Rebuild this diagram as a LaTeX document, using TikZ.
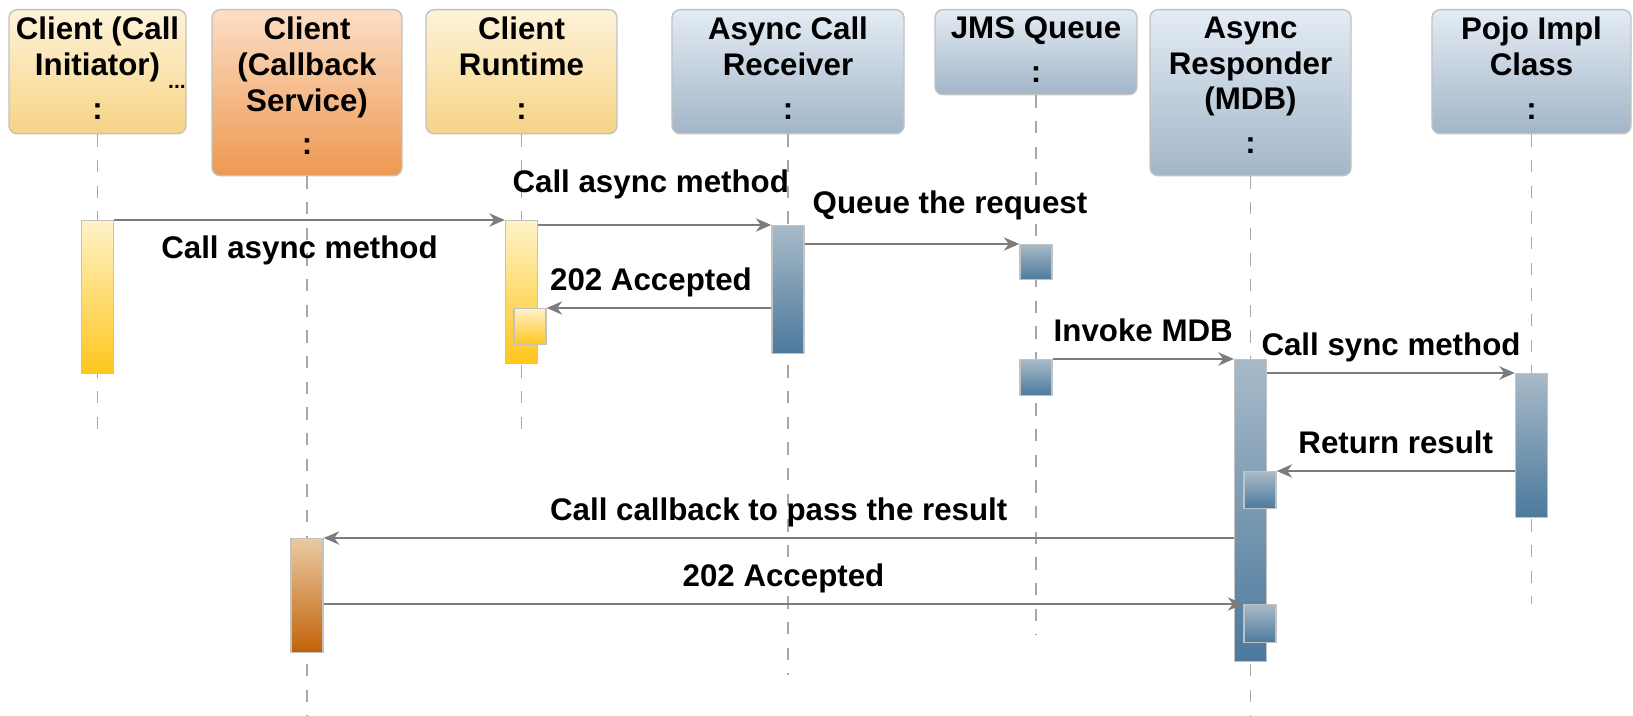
\documentclass[tikz,border=0pt]{standalone}
\usepackage{fontspec}
\setmainfont{Liberation Sans}
\usetikzlibrary{arrows.meta,positioning}
\definecolor{headyellowtop}{HTML}{FEF3D8}
\definecolor{headyellowbot}{HTML}{F6D486}
\definecolor{headorangetop}{HTML}{FCDEC6}
\definecolor{headorangebot}{HTML}{EE9850}
\definecolor{headbluetop}{HTML}{E4ECF4}
\definecolor{headbluebot}{HTML}{A2B5C8}
\definecolor{actyellowtop}{HTML}{FFF2C8}
\definecolor{actyellowbot}{HTML}{FFC61C}
\definecolor{actorangetop}{HTML}{EACAA2}
\definecolor{actorangebot}{HTML}{C26208}
\definecolor{actbluetop}{HTML}{A8BAC8}
\definecolor{actbluebot}{HTML}{4B799D}
\definecolor{msggray}{HTML}{7C7C7C}
\definecolor{linegray}{HTML}{A8A8A8}
\definecolor{edgegray}{HTML}{C2C2C2}
\newcommand{\seqfont}{\bfseries\fontsize{8.9}{10.2}\selectfont}

\begin{document}
\begin{tikzpicture}[
        head/.style={rectangle,draw=edgegray,line width=0.4pt,rounded corners=2.3pt,
                     anchor=north,inner sep=0pt},
        headyellow/.style={head,top color=headyellowtop,bottom color=headyellowbot},
        headorange/.style={head,top color=headorangetop,bottom color=headorangebot},
        headblue/.style={head,top color=headbluetop,bottom color=headbluebot},
        headtext/.style={align=center,font=\seqfont,inner sep=0pt},
        lifeline/.style={draw=linegray,line width=0.42pt,dash pattern=on 3.5pt off 3.8pt},
        act/.style={rectangle,draw=edgegray,line width=0.4pt,anchor=north,
                    minimum width=0.32cm,inner sep=0pt},
        actyellow/.style={act,top color=actyellowtop,bottom color=actyellowbot},
        actorange/.style={act,top color=actorangetop,bottom color=actorangebot},
        actblue/.style={act,top color=actbluetop,bottom color=actbluebot},
        msg/.style={draw=msggray,line width=0.55pt,
                    -{Stealth[length=4.4pt,width=3.8pt,inset=1.4pt]}},
        lbl/.style={font=\seqfont,anchor=base,inner sep=0pt,yshift=5pt},
        lbllow/.style={font=\seqfont,anchor=base,inner sep=0pt,yshift=-11pt}]
      \useasboundingbox (0,0) rectangle (16.33,-7.16);

      % lifeline heads
      \node[headyellow,minimum width=1.77cm,minimum height=1.24cm] (initiator) at (0.975,-0.09) {};
      \node[headorange,minimum width=1.90cm,minimum height=1.66cm] (callback)  at (3.07,-0.09)  {};
      \node[headyellow,minimum width=1.91cm,minimum height=1.24cm] (runtime)   at (5.215,-0.09) {};
      \node[headblue,minimum width=2.32cm,minimum height=1.24cm]   (receiver)  at (7.88,-0.09)  {};
      \node[headblue,minimum width=2.02cm,minimum height=0.85cm]   (queue)     at (10.36,-0.09) {};
      \node[headblue,minimum width=2.01cm,minimum height=1.66cm]   (responder) at (12.505,-0.09){};
      \node[headblue,minimum width=1.99cm,minimum height=1.24cm]   (pojo)      at (15.315,-0.09){};

      \node[headtext,below=0.07cm of initiator.north] (initiatorTxt) {Client (Call\\Initiator)\\[2.3pt]:};
      \node[font=\bfseries\fontsize{6}{6}\selectfont,anchor=base,inner sep=0pt] (initiatorMore) at (1.77,-0.89) {...};
      \node[headtext,below=0.07cm of callback.north]  (callbackTxt)  {Client\\(Callback\\Service)\\[2.3pt]:};
      \node[headtext,below=0.07cm of runtime.north]   (runtimeTxt)   {Client\\Runtime\\[2.3pt]:};
      \node[headtext,below=0.07cm of receiver.north]  (receiverTxt)  {Async Call\\Receiver\\[2.3pt]:};
      \node[headtext,below=0.07cm of queue.north]     (queueTxt)     {JMS Queue\\[2.3pt]:};
      \node[headtext,below=0.07cm of responder.north] (responderTxt) {Async\\Responder\\(MDB)\\[2.3pt]:};
      \node[headtext,below=0.07cm of pojo.north]      (pojoTxt)      {Pojo Impl\\Class\\[2.3pt]:};

      % lifelines
      \coordinate (initiatorEnd) at (0.975,-4.32);
      \coordinate (callbackEnd)  at (3.07,-7.16);
      \coordinate (runtimeEnd)   at (5.215,-4.32);
      \coordinate (receiverEnd)  at (7.88,-6.75);
      \coordinate (queueEnd)     at (10.36,-6.35);
      \coordinate (responderEnd) at (12.505,-7.16);
      \coordinate (pojoEnd)      at (15.315,-6.04);
      \foreach \who in {initiator,callback,runtime,receiver,queue,responder,pojo}
        \draw[lifeline] (\who) -- (\who End);

      % activations
      \node[actyellow,minimum height=1.53cm] (actInit)     at (0.975,-2.20) {};
      \node[actyellow,minimum height=1.43cm] (actRuntime)  at (5.215,-2.20) {};
      \node[actyellow,minimum height=0.36cm] (actRuntimeB) at (5.30,-3.08)  {};
      \node[actblue,minimum height=1.28cm]   (actRecv)     at (7.88,-2.25)  {};
      \node[actblue,minimum height=0.35cm]   (actQueueA)   at (10.36,-2.44) {};
      \node[actblue,minimum height=0.36cm]   (actQueueB)   at (10.36,-3.59) {};
      \node[actblue,minimum height=3.02cm]   (actResp)     at (12.505,-3.59){};
      \node[actblue,minimum height=0.37cm]   (actRespB)    at (12.60,-4.71) {};
      \node[actblue,minimum height=0.38cm]   (actRespC)    at (12.60,-6.04) {};
      \node[actblue,minimum height=1.44cm]   (actPojo)     at (15.315,-3.73){};
      \node[actorange,minimum height=1.14cm] (actCallback) at (3.07,-5.38)  {};

      % messages
      \draw[msg] (actInit.north east) -- node[lbllow,xshift=-0.1cm] (m1) {Call async method} (actRuntime.north west);
      \draw[msg] (actRuntime.east |- actRecv.north) -- node[lbl,yshift=4.3pt,xshift=-0.04cm] (m2) {Call async method} (actRecv.north west);
      \draw[msg] (actRecv.east |- actQueueA.north) -- node[lbl,yshift=3.8pt,xshift=0.38cm] (m3) {Queue the request} (actQueueA.north west);
      \draw[msg] (actRecv.west |- actRuntimeB.north) -- node[lbl,xshift=-0.08cm] (m4) {202 Accepted} (actRuntimeB.north east);
      \draw[msg] (actQueueB.north east) -- node[lbl] (m5) {Invoke MDB} (actResp.north west);
      \draw[msg] (actResp.east |- actPojo.north) -- node[lbl] (m6) {Call sync method} (actPojo.north west);
      \draw[msg] (actPojo.west |- actRespB.north) -- node[lbl] (m7) {Return result} (actRespB.north east);
      \draw[msg] (actResp.west |- actCallback.north) -- node[lbl] (m8) {Call callback to pass the result} (actCallback.north east);
      \draw[msg] (actCallback.east |- actRespC.north) -- node[lbl] (m9) {202 Accepted} (actRespC.north west);
    \end{tikzpicture}
\end{document}
